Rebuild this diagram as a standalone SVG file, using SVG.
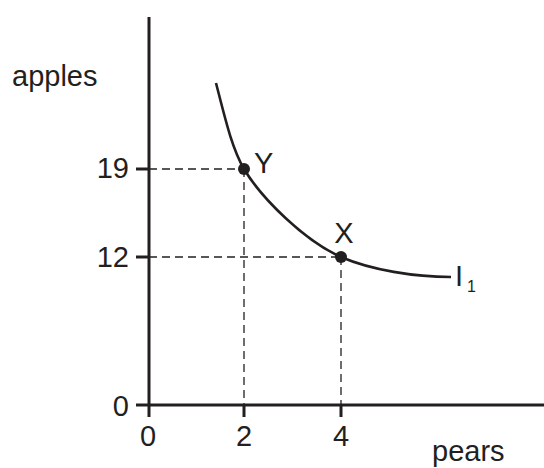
<svg xmlns="http://www.w3.org/2000/svg" width="544" height="468" viewBox="0 0 544 468">
<style>
.t{font-family:"Liberation Sans",Arial,sans-serif;font-size:29px;fill:#231f20}
.ax{stroke:#231f20;stroke-width:3;fill:none}
.dash{stroke:#231f20;stroke-width:1.3;stroke-dasharray:8 5;fill:none}
.cv{stroke:#231f20;stroke-width:2.6;fill:none}
</style>
<rect width="544" height="468" fill="#fff"/>
<g id="connectors">
<line class="dash" x1="149" y1="169" x2="244" y2="169"/>
<line class="dash" x1="244" y1="169" x2="244" y2="405"/>
<line class="dash" x1="149" y1="257" x2="341" y2="257"/>
<line class="dash" x1="341" y1="257" x2="341" y2="405"/>
<path class="cv" d="M216,83 C226,122 232,148 244,169 C262,199 305,241 341,257 C371,270 415,277 451,277"/>
</g>
<g id="axes">
<line class="ax" x1="149" y1="17" x2="149" y2="417"/>
<line class="ax" x1="136" y1="405" x2="544" y2="405"/>
<line class="ax" x1="136" y1="169" x2="149" y2="169"/>
<line class="ax" x1="136" y1="257" x2="149" y2="257"/>
<line class="ax" x1="244" y1="405" x2="244" y2="417"/>
<line class="ax" x1="341" y1="405" x2="341" y2="417"/>
<text class="t" x="12" y="86">apples</text>
<text class="t" x="432" y="461">pears</text>
<text class="t" x="129" y="178" text-anchor="end">19</text>
<text class="t" x="129" y="267" text-anchor="end">12</text>
<text class="t" x="129" y="416" text-anchor="end">0</text>
<text class="t" x="148" y="446" text-anchor="middle">0</text>
<text class="t" x="244" y="446" text-anchor="middle">2</text>
<text class="t" x="341" y="446" text-anchor="middle">4</text>
</g>
<g id="nodeY">
<circle cx="244" cy="169" r="6" fill="#231f20"/>
<text class="t" x="254" y="173">Y</text>
</g>
<g id="nodeX">
<circle cx="341" cy="257" r="6" fill="#231f20"/>
<text class="t" x="344" y="243" text-anchor="middle">X</text>
</g>
<g id="curveLabel">
<text class="t" x="455" y="286">I</text>
<text class="t" x="467" y="292" style="font-size:16px">1</text>
</g>
</svg>
